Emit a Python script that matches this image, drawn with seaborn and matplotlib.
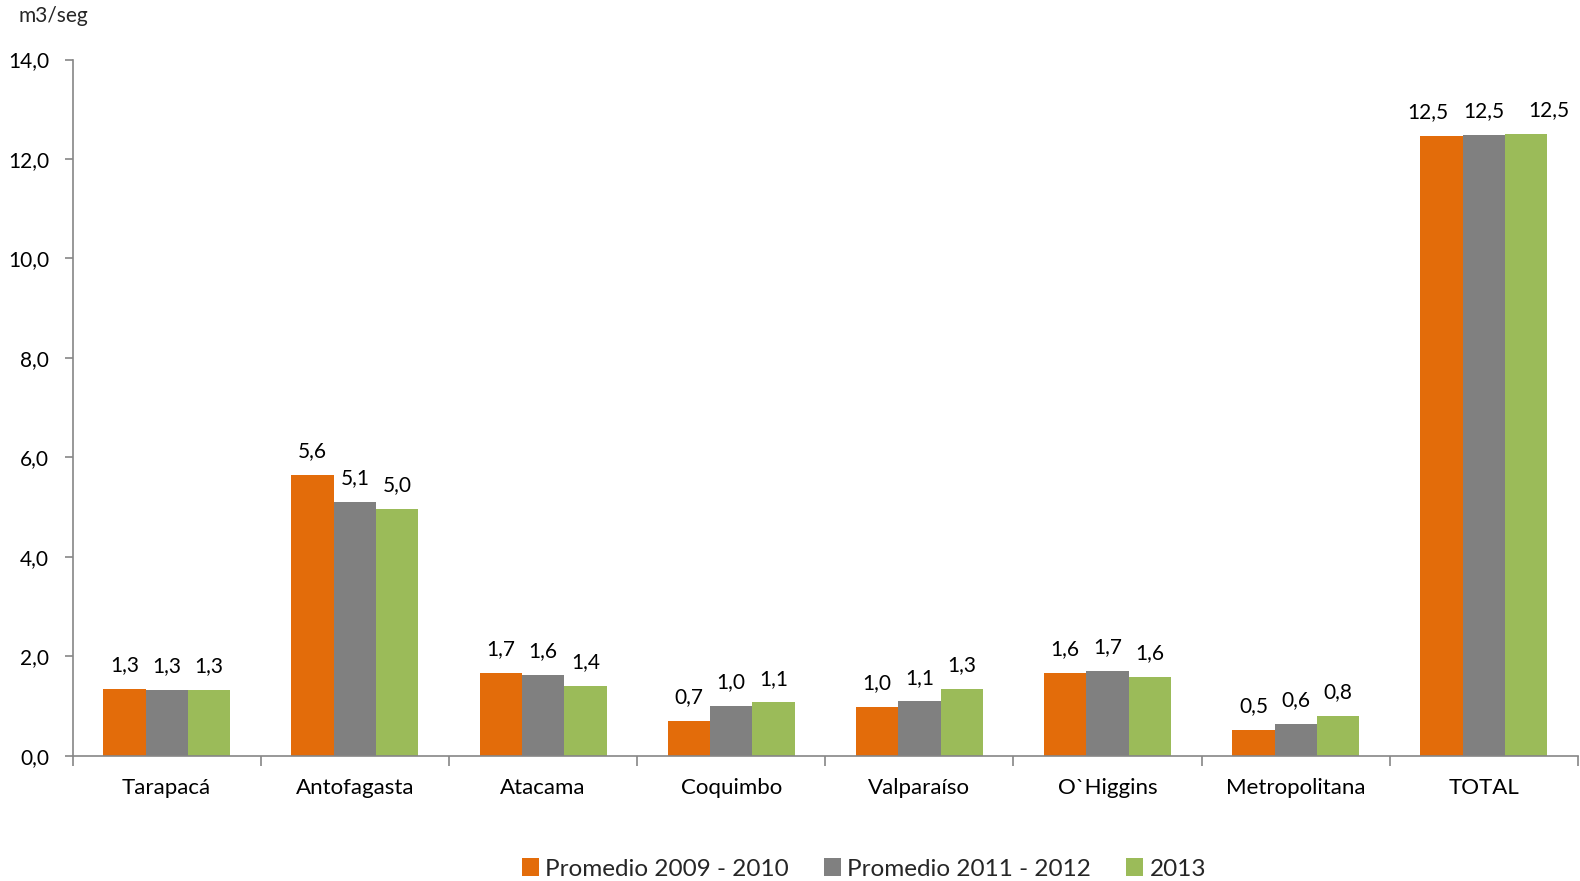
import matplotlib
matplotlib.use("Agg")
import matplotlib.pyplot as plt
import seaborn as sns
import pandas as pd
import numpy as np
from matplotlib.ticker import FixedLocator, FuncFormatter
from matplotlib.patches import Patch

categories = ["Tarapacá", "Antofagasta", "Atacama", "Coquimbo", "Valparaíso",
              "O`Higgins", "Metropolitana", "TOTAL"]
series_names = ["Promedio 2009 - 2010", "Promedio 2011 - 2012", "2013"]
vals_0910 = [1.34, 5.65, 1.66, 0.69, 0.97, 1.66, 0.51, 12.47]
vals_1112 = [1.32, 5.11, 1.62, 0.99, 1.09, 1.70, 0.63, 12.48]
vals_2013 = [1.32, 4.96, 1.40, 1.07, 1.34, 1.58, 0.79, 12.50]
labels_0910 = ["1,3", "5,6", "1,7", "0,7", "1,0", "1,6", "0,5", "12,5"]
labels_1112 = ["1,3", "5,1", "1,6", "1,0", "1,1", "1,7", "0,6", "12,5"]
labels_2013 = ["1,3", "5,0", "1,4", "1,1", "1,3", "1,6", "0,8", "12,5"]
colors = ["#E36C0A", "#808080", "#9BBB59"]

sns.set_theme(style="white")
plt.rcParams["font.family"] = ["Lato", "DejaVu Sans"]

rows = []
for s, vals in zip(series_names, [vals_0910, vals_1112, vals_2013]):
    for c, v in zip(categories, vals):
        rows.append({"Region": c, "Serie": s, "Valor": v})
df = pd.DataFrame(rows)

W, H = 1580, 881
fig = plt.figure(figsize=(15.8, 8.81), dpi=100)
x0, x1, ytop, ybot = 72.6, 1578, 59.5, 755.7
ax = fig.add_axes([x0 / W, 1 - ybot / H, (x1 - x0) / W, (ybot - ytop) / H])

sns.barplot(data=df, x="Region", y="Valor", hue="Serie", order=categories,
            hue_order=series_names, palette=colors, width=0.675,
            saturation=1, ax=ax, legend=False, linewidth=0)

ax.set_ylim(0, 14)
ax.set_xlim(-0.5, len(categories) - 0.5)
ax.set_yticks(np.arange(0, 14.1, 2))
ax.yaxis.set_major_formatter(FuncFormatter(lambda v, p: f"{v:.1f}".replace(".", ",")))
ax.set_xlabel("")
ax.set_ylabel("")

for sp in ["top", "right"]:
    ax.spines[sp].set_visible(False)
for sp in ["left", "bottom"]:
    ax.spines[sp].set_color("#868686")
    ax.spines[sp].set_linewidth(1.2)

ax.tick_params(axis="y", which="major", left=True, length=6, width=1.2, color="#868686",
               labelsize=15, pad=11, labelcolor="black")
ax.tick_params(axis="x", which="major", bottom=False, length=0, labelsize=16, pad=16,
               labelcolor="black")
ax.xaxis.set_minor_locator(FixedLocator(np.arange(-0.5, len(categories), 1.0)))
ax.tick_params(axis="x", which="minor", bottom=True, length=7, width=1.2, color="#868686",
               direction="out")

all_labels = [labels_0910, labels_1112, labels_2013]
total_dx = [-10, 0, 16]  # spread the crowded TOTAL labels apart (points)
for k, (cont, labs) in enumerate(zip(ax.containers, all_labels)):
    for i, (bar, lab) in enumerate(zip(cont, labs)):
        x = bar.get_x() + bar.get_width() / 2
        y = bar.get_height()
        dx = total_dx[k] if categories[i] == "TOTAL" else 0
        ax.annotate(lab, (x, y), xytext=(dx, 10), textcoords="offset points",
                    ha="center", va="bottom", fontsize=15, color="black")

fig.text(18 / W, 1 - 16 / H, "m3/seg", fontsize=15, va="center", ha="left")

handles = [Patch(facecolor=c, edgecolor="none") for c in colors]
fig.legend(handles, series_names, loc="center", bbox_to_anchor=(864 / W, 1 - 869 / H),
           ncol=3, frameon=False, fontsize=17.5, handlelength=0.7, handleheight=0.7,
           handletextpad=0.25, columnspacing=1.45)

fig.savefig("out.png", dpi=100)
